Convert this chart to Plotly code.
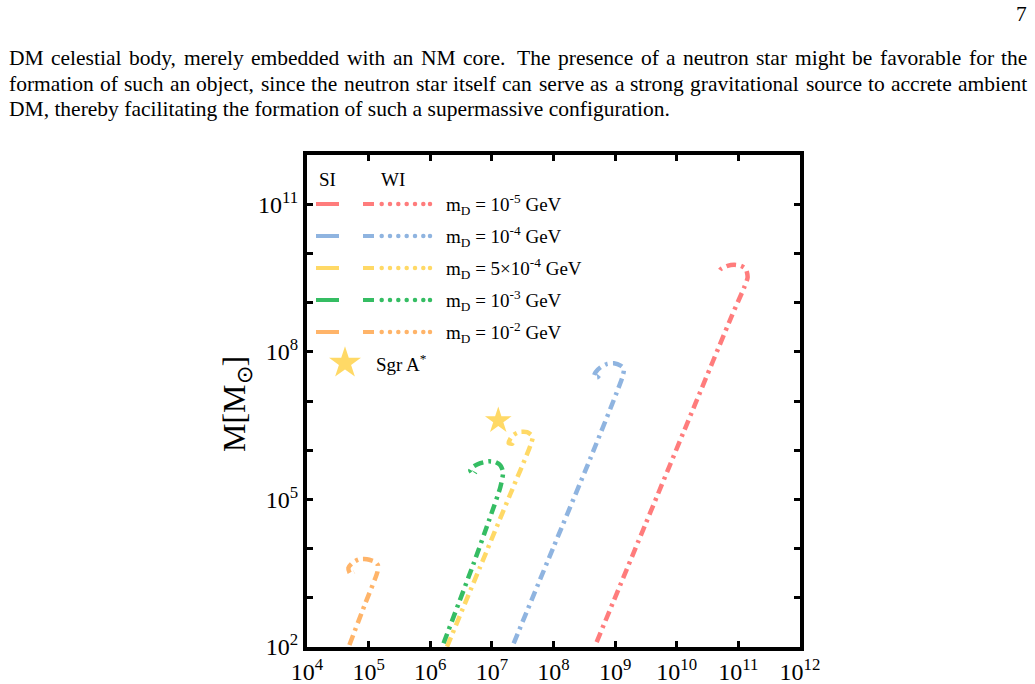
import numpy as np
import plotly.graph_objects as go

W, H = 1035, 684
PL, PR, PT, PB = 307, 800, 155, 647   # plot area (pixels)

# ---------------- data (log10 values) ----------------
series_names = ["m<sub>D</sub> = 10<sup>-5</sup> GeV",
                "m<sub>D</sub> = 10<sup>-4</sup> GeV",
                "m<sub>D</sub> = 5\u00d710<sup>-4</sup> GeV",
                "m<sub>D</sub> = 10<sup>-3</sup> GeV",
                "m<sub>D</sub> = 10<sup>-2</sup> GeV"]
colors = ["#FF7C7C", "#8FB4E0", "#FFD966", "#35BD63", "#FFB469"]

red_logR = [8.70, 9.50, 10.30, 10.90, 11.094, 11.150, 11.122, 11.041, 10.932, 10.824, 10.715, 10.688]
red_logM = [2.10, 4.52, 6.94, 8.75, 9.308, 9.511, 9.681, 9.748, 9.769, 9.748, 9.681, 9.633]

blue_logR = [7.354, 8.00, 8.60, 9.117, 9.143, 9.089, 8.980, 8.873, 8.764, 8.683, 8.655, 8.711, 8.753]
blue_logM = [2.075, 4.03, 5.84, 7.483, 7.653, 7.720, 7.767, 7.755, 7.686, 7.584, 7.497, 7.483, 7.538]

yellow_logR = [6.272, 6.80, 7.30, 7.626, 7.663, 7.572, 7.436, 7.354, 7.301, 7.273, 7.328, 7.354]
yellow_logM = [2.006, 3.60, 5.11, 6.097, 6.280, 6.367, 6.367, 6.314, 6.233, 6.144, 6.132, 6.185]

green_logR = [6.216, 6.704, 6.950, 7.138, 7.182, 7.138, 7.057, 6.948, 6.813, 6.704, 6.650, 6.704, 6.732]
green_logM = [2.075, 3.698, 4.560, 5.252, 5.556, 5.692, 5.759, 5.773, 5.738, 5.671, 5.590, 5.509, 5.556]

orange_logR = [4.688, 4.95, 5.143, 5.150, 5.106, 4.971, 4.834, 4.727, 4.672, 4.699, 4.764]
orange_logM = [2.041, 2.90, 3.527, 3.663, 3.730, 3.785, 3.779, 3.698, 3.609, 3.495, 3.527]

sgr_R = [1.27e7]
sgr_M = [4.0e6]

x_tick_exp = [4, 5, 6, 7, 8, 9, 10, 11, 12]
y_tick_exp = [2, 3, 4, 5, 6, 7, 8, 9, 10, 11, 12]
y_label_exp = [2, 5, 8, 11]

paragraph = [
    "DM celestial body, merely embedded with an NM core.  The presence of a neutron star might be favorable for the",
    "formation of such an object, since the neutron star itself can serve as a strong gravitational source to accrete ambient",
    "DM, thereby facilitating the formation of such a supermassive configuration.",
]
page_number = "7"

curves = [(red_logR, red_logM), (blue_logR, blue_logM), (yellow_logR, yellow_logM),
          (green_logR, green_logM), (orange_logR, orange_logM)]

SERIF = "Liberation Serif"

fig = go.Figure()
for (lr, lm), c in zip(curves, colors):
    fig.add_trace(go.Scatter(
        x=10 ** np.array(lr), y=10 ** np.array(lm), mode="lines",
        line=dict(color=c, width=4.5, dash="10px,5px,3px,5px", shape="spline", smoothing=0.6),
        showlegend=False, hoverinfo="skip"))

fig.add_trace(go.Scatter(x=sgr_R, y=sgr_M, mode="markers",
                         marker=dict(symbol="star", size=20, color="#FFD966"),
                         showlegend=False, hoverinfo="skip"))

# ---------------- custom legend (pixel overlay axes) ----------------
LEG_FONT = dict(family=SERIF, size=19, color="black")
row_y = [204, 236, 268, 300, 332]
for ry, c, name in zip(row_y, colors, series_names):
    fig.add_trace(go.Scatter(x=[316, 339], y=[ry, ry], mode="lines", xaxis="x2", yaxis="y2",
                             line=dict(color=c, width=4), showlegend=False, hoverinfo="skip"))
    fig.add_trace(go.Scatter(x=[363, 374], y=[ry, ry], mode="lines", xaxis="x2", yaxis="y2",
                             line=dict(color=c, width=4), showlegend=False, hoverinfo="skip"))
    fig.add_trace(go.Scatter(x=[381.7, 390, 398.3, 406.7, 415, 423.3, 430], y=[ry] * 7,
                             mode="markers", xaxis="x2", yaxis="y2",
                             marker=dict(color=c, size=4.5), showlegend=False, hoverinfo="skip"))
    fig.add_annotation(x=444 / W, y=1 - ry / H, xref="paper", yref="paper", text=name,
                       showarrow=False, xanchor="left", yanchor="middle", font=LEG_FONT)
fig.add_trace(go.Scatter(x=[345], y=[363], mode="markers", xaxis="x2", yaxis="y2",
                         marker=dict(symbol="star", size=24, color="#FFD966"),
                         showlegend=False, hoverinfo="skip"))
fig.add_annotation(x=374 / W, y=1 - 363 / H, xref="paper", yref="paper", text="Sgr A<sup>*</sup>",
                   showarrow=False, xanchor="left", yanchor="middle", font=LEG_FONT)
fig.add_annotation(x=327 / W, y=1 - 179 / H, xref="paper", yref="paper", text="SI",
                   showarrow=False, xanchor="center", yanchor="middle", font=LEG_FONT)
fig.add_annotation(x=393 / W, y=1 - 179 / H, xref="paper", yref="paper", text="WI",
                   showarrow=False, xanchor="center", yanchor="middle", font=LEG_FONT)

# y-axis title
fig.add_annotation(x=236 / W, y=1 - 404 / H, xref="paper", yref="paper",
                   text="M[M<sub>\u2299</sub>]", textangle=-90, showarrow=False,
                   xanchor="center", yanchor="middle",
                   font=dict(family=SERIF, size=32, color="black"))

# ---------------- paragraph text (justified using Times metrics) ----------------
TIMES = {' ': 250, ',': 250, '.': 250, 'a': 444, 'b': 500, 'c': 444, 'd': 500, 'e': 444,
         'f': 333, 'g': 500, 'h': 500, 'i': 278, 'j': 278, 'k': 500, 'l': 278, 'm': 778,
         'n': 500, 'o': 500, 'p': 500, 'q': 500, 'r': 333, 's': 389, 't': 278, 'u': 500,
         'v': 500, 'w': 722, 'x': 500, 'y': 500, 'z': 444, 'A': 722, 'D': 722, 'M': 889,
         'N': 722, 'T': 611}
PFS = 21.5
PFONT = dict(family=SERIF, size=PFS, color="black")
LEFT, RIGHT = 8, 1027


def word_w(wd):
    return sum(TIMES.get(ch, 500) for ch in wd) * PFS / 1000.0


for i, line in enumerate(paragraph):
    yy = 1 - (58 + 25.5 * i) / H
    if i < len(paragraph) - 1:
        words = line.split(" ")
        # merge double spaces into a wider gap weight
        toks, weights = [], []
        for wd in words:
            if wd == "":
                weights[-1] = 1.6
                continue
            toks.append(wd)
            weights.append(1.0)
        weights = weights[:-1]
        natural = sum(word_w(t) for t in toks)
        gap_unit = (RIGHT - LEFT - natural) / sum(weights)
        xpos = LEFT
        for k, t in enumerate(toks):
            fig.add_annotation(x=(xpos - 1.5) / W, y=yy, xref="paper", yref="paper", text=t,
                               showarrow=False, xanchor="left", yanchor="middle", font=PFONT)
            xpos += word_w(t) + (gap_unit * weights[k] if k < len(weights) else 0)
    else:
        fig.add_annotation(x=(LEFT - 1.5) / W, y=yy, xref="paper", yref="paper", text=line,
                           showarrow=False, xanchor="left", yanchor="middle", font=PFONT)
fig.add_annotation(x=(RIGHT + 1.5) / W, y=1 - 14 / H, xref="paper", yref="paper", text=page_number,
                   showarrow=False, xanchor="right", yanchor="middle", font=PFONT)

axis_common = dict(type="log", showline=True, linewidth=4, linecolor="black", mirror="ticks",
                   ticks="inside", ticklen=6, tickwidth=3, tickcolor="black",
                   showgrid=False, zeroline=False, automargin=False,
                   tickfont=dict(family=SERIF, size=24, color="black"))

fig.update_layout(
    width=W, height=H, margin=dict(l=0, r=0, t=0, b=0, pad=0, autoexpand=False),
    paper_bgcolor="white", plot_bgcolor="white", showlegend=False,
    xaxis=dict(domain=[PL / W, PR / W], range=[4, 12],
               tickvals=[10 ** e for e in x_tick_exp],
               ticktext=[f"10<sup>{e}</sup>" for e in x_tick_exp], **axis_common),
    yaxis=dict(domain=[1 - PB / H, 1 - PT / H], range=[2, 12],
               tickvals=[10 ** e for e in y_tick_exp],
               ticktext=[f"10<sup>{e}</sup>" if e in y_label_exp else "" for e in y_tick_exp],
               **axis_common),
    xaxis2=dict(overlaying="x", range=[PL, PR], visible=False),
    yaxis2=dict(overlaying="y", range=[PB, PT], visible=False),
)

fig.write_html("out.html")
